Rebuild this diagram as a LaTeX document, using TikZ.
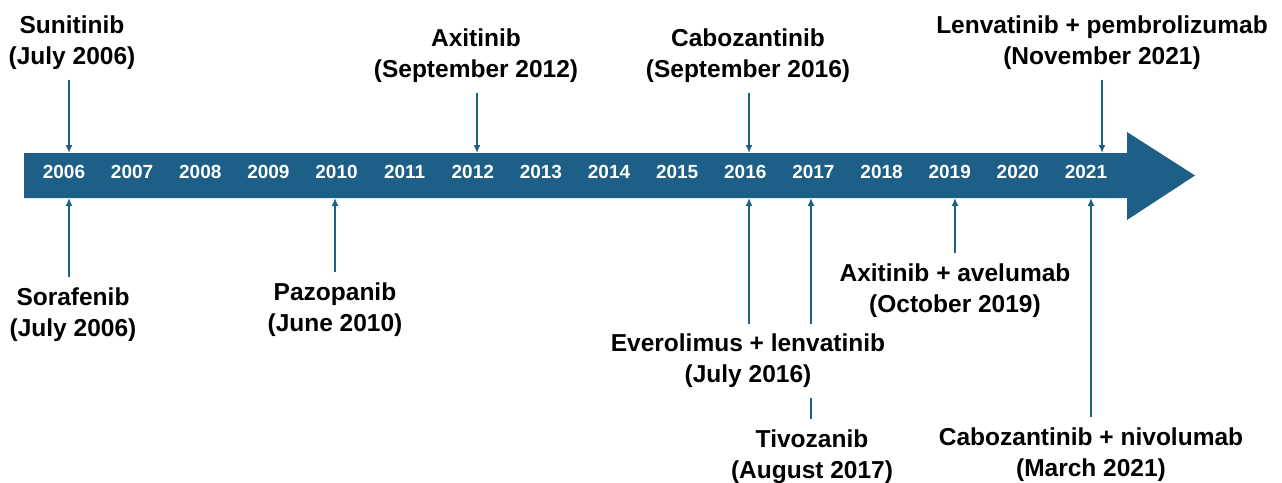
\documentclass[tikz,border=0pt]{standalone}
\usepackage{fontspec}
\setmainfont{Liberation Sans}
\usetikzlibrary{arrows.meta}

\definecolor{barblue}{RGB}{29,95,135}

\begin{document}
\begin{tikzpicture}[x=1pt,y=-1pt]
  \tikzstyle{tl}=[->,>={Latex[length=8pt,width=7pt]},line width=1.6pt,draw=barblue]
  \tikzstyle{lbl}=[align=center,inner xsep=2pt,inner ysep=10pt,font=\bfseries\fontsize{24.5}{31}\selectfont]
  \tikzstyle{yr}=[text=white,font=\bfseries\fontsize{19}{22}\selectfont]

  \useasboundingbox (0,0) rectangle (1282,482);

  % timeline arrow
  \fill[barblue] (24,153) -- (1127,153) -- (1127,132) -- (1195,175.5)
    -- (1127,220) -- (1127,198) -- (24,198) -- cycle;
  \foreach \y in {2006,...,2021}
    \node[yr] (y\y) at ({64+68.13*(\y-2006)},172) {\y};

  % arrow ends on the bar
  \coordinate (t06) at (69,153);
  \coordinate (b06) at (69,198);
  \coordinate (b10) at (335,198);
  \coordinate (t12) at (477,153);
  \coordinate (t16) at (749,153);
  \coordinate (b16) at (749,198);
  \coordinate (b17) at (811,198);
  \coordinate (b19) at (955,198);
  \coordinate (b21) at (1091,198);
  \coordinate (t21) at (1102,153);

  % labels above
  \node[lbl] (suni) at (72,42.5) {Sunitinib\\(July 2006)};
  \node[lbl] (axi) at (476,56) {Axitinib\\(September 2012)};
  \node[lbl] (cabo) at (748,56) {Cabozantinib\\(September 2016)};
  \node[lbl] (lenpem) at (1102,42.5) {Lenvatinib + pembrolizumab\\(November 2021)};
  \draw[tl] (suni.south -| t06) -- (t06);
  \draw[tl] (axi.south -| t12) -- (t12);
  \draw[tl] (cabo.south -| t16) -- (t16);
  \draw[tl] (lenpem.south -| t21) -- (t21);

  % labels below
  \node[lbl] (sora) at (73,314.5) {Sorafenib\\(July 2006)};
  \node[lbl] (pazo) at (335,309.5) {Pazopanib\\(June 2010)};
  \node[lbl] (tivo) at (812,456.5) {Tivozanib\\(August 2017)};
  \node[lbl] (axiave) at (955,290.5) {Axitinib + avelumab\\(October 2019)};
  \node[lbl] (cabniv) at (1091,454.5) {Cabozantinib + nivolumab\\(March 2021)};
  \draw[tl] (sora.north -| b06) -- (b06);
  \draw[tl] (pazo.north -| b10) -- (b10);
  \draw[tl] (tivo.north -| b17) -- (b17); % runs behind the next label
  \draw[tl] (axiave.north -| b19) -- (b19);
  \draw[tl] (cabniv.north -| b21) -- (b21);
  \node[lbl,fill=white] (evlen) at (748,361) {Everolimus + lenvatinib\\(July 2016)};
  \draw[tl] (evlen.north -| b16) -- (b16);
\end{tikzpicture}
\end{document}
